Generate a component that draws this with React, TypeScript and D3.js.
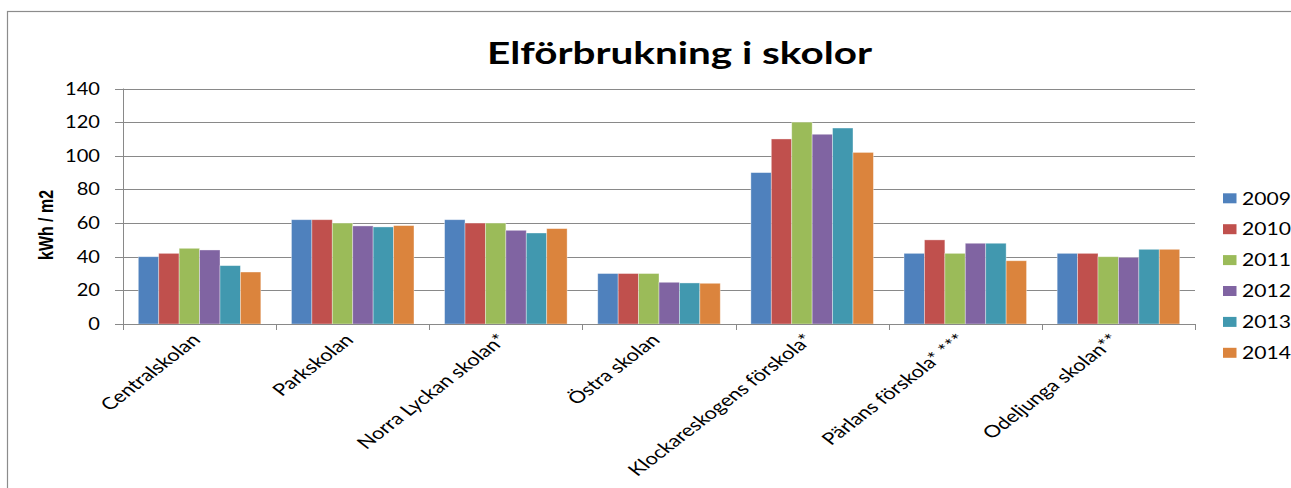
import React from "react";
import * as d3 from "d3";

const categories = [
  "Centralskolan",
  "Parkskolan",
  "Norra Lyckan skolan*",
  "Östra skolan",
  "Klockareskogens förskola*",
  "Pärlans förskola* ***",
  "Odeljunga skolan**",
];
const years = ["2009", "2010", "2011", "2012", "2013", "2014"];
const v2009 = [40, 62, 62, 30, 90, 42, 42];
const v2010 = [42, 62, 60, 30, 110, 50, 42];
const v2011 = [45, 60, 60, 30, 120, 42, 40];
const v2012 = [44, 58.3, 55.7, 24.8, 112.8, 48, 39.6];
const v2013 = [34.7, 57.7, 54.1, 24.4, 116.5, 48, 44.4];
const v2014 = [30.9, 58.5, 56.7, 24.2, 102, 37.6, 44.4];
const seriesValues = [v2009, v2010, v2011, v2012, v2013, v2014];
const yTicks = [0, 20, 40, 60, 80, 100, 120, 140];
const colors = ["#4F81BD", "#C0504D", "#9BBB59", "#8064A2", "#4198AF", "#DB843D"];

const TITLE = "Elförbrukning i skolor";
const Y_LABEL = "kWh / m2";

export default function App() {
  const left = 123;
  const right = 1195;
  const top = 88.5;
  const bottom = 324;

  const x0 = d3
    .scaleBand<string>()
    .domain(categories)
    .range([left, right])
    .paddingInner(0.2)
    .paddingOuter(0.1);
  const x1 = d3.scaleBand<string>().domain(years).range([0, x0.bandwidth()]);
  const y = d3.scaleLinear().domain([0, 140]).range([bottom, top]);

  const step = x0.step();
  const boundaries = categories.map((c) => (x0(c) as number) - step * 0.1);
  boundaries.push(right);

  const font = "Lato, 'Open Sans', sans-serif";
  const grid = "#898989";
  const sx = 1.18;

  return (
    <svg
      width={1291}
      height={488}
      style={{ position: "absolute", left: 0, top: 0, background: "#fff" }}
    >
      <rect x={0} y={0} width={1291} height={488} fill="#fff" />
      <rect x={7.5} y={11.5} width={1400} height={600} fill="none" stroke="#8c8c8c" strokeWidth={1.2} />

      <text
        x={679.5}
        y={64}
        textAnchor="middle"
        fontFamily={font}
        fontWeight="bold"
        fontSize={31}
        textLength={385}
        lengthAdjust="spacingAndGlyphs"
        fill="#000"
      >
        {TITLE}
      </text>

      {/* gridlines */}
      {yTicks.map((t) => (
        <g key={t}>
          <line x1={left} x2={right} y1={Math.round(y(t)) + 0.5} y2={Math.round(y(t)) + 0.5} stroke={grid} strokeWidth={1} />
          <line x1={left - 8} x2={left} y1={Math.round(y(t)) + 0.5} y2={Math.round(y(t)) + 0.5} stroke={grid} strokeWidth={1} />
          <text
            transform={`translate(100, ${y(t) + 6}) scale(${sx},1)`}
            textAnchor="end"
            fontFamily={font}
            fontSize={17}
            fill="#000"
          >
            {t}
          </text>
        </g>
      ))}

      {/* y axis line */}
      <line x1={left + 0.5} x2={left + 0.5} y1={top} y2={bottom} stroke={grid} strokeWidth={1} />

      {/* bars */}
      {years.map((yr, si) => (
        <g key={yr}>
          {categories.map((c, ci) => {
            const v = seriesValues[si][ci];
            const bx = (x0(c) as number) + (x1(yr) as number);
            return (
              <rect
                key={c}
                x={bx}
                y={y(v)}
                width={x1.bandwidth()}
                height={bottom - y(v)}
                fill={colors[si]}
                stroke="rgba(255,255,255,0.45)"
                strokeWidth={0.8}
              />
            );
          })}
        </g>
      ))}

      {/* x axis */}
      <line x1={left} x2={right} y1={bottom + 0.5} y2={bottom + 0.5} stroke={grid} strokeWidth={1} />
      {boundaries.map((b, i) => (
        <line key={i} x1={Math.round(b) + 0.5} x2={Math.round(b) + 0.5} y1={bottom} y2={bottom + 6} stroke={grid} strokeWidth={1} />
      ))}

      {/* category labels */}
      {categories.map((c) => {
        const cx = (x0(c) as number) + x0.bandwidth() / 2;
        return (
          <text
            key={c}
            transform={`translate(${cx + 2}, 341) scale(1.3,1) rotate(-45)`}
            textAnchor="end"
            fontFamily={font}
            fontSize={16.8}
            fill="#000"
          >
            {c}
          </text>
        );
      })}

      {/* y label */}
      <text
        transform={`translate(53, 225) scale(1.3,1) rotate(-90)`}
        textAnchor="middle"
        fontFamily="'Liberation Sans Narrow', 'Liberation Sans', Arial, sans-serif"
        fontWeight="bold"
        fontSize={16}
        textLength={70}
        lengthAdjust="spacingAndGlyphs"
        fill="#000"
      >
        {Y_LABEL}
      </text>

      {/* legend */}
      {years.map((yr, i) => {
        const ly = 198.3 + i * 30.9;
        return (
          <g key={yr}>
            <rect x={1223} y={ly - 5} width={13.5} height={10} fill={colors[i]} />
            <text
              x={1242}
              y={ly + 6.2}
              fontFamily={font}
              fontSize={17}
              textLength={49}
              lengthAdjust="spacingAndGlyphs"
              fill="#000"
            >
              {yr}
            </text>
          </g>
        );
      })}
    </svg>
  );
}
